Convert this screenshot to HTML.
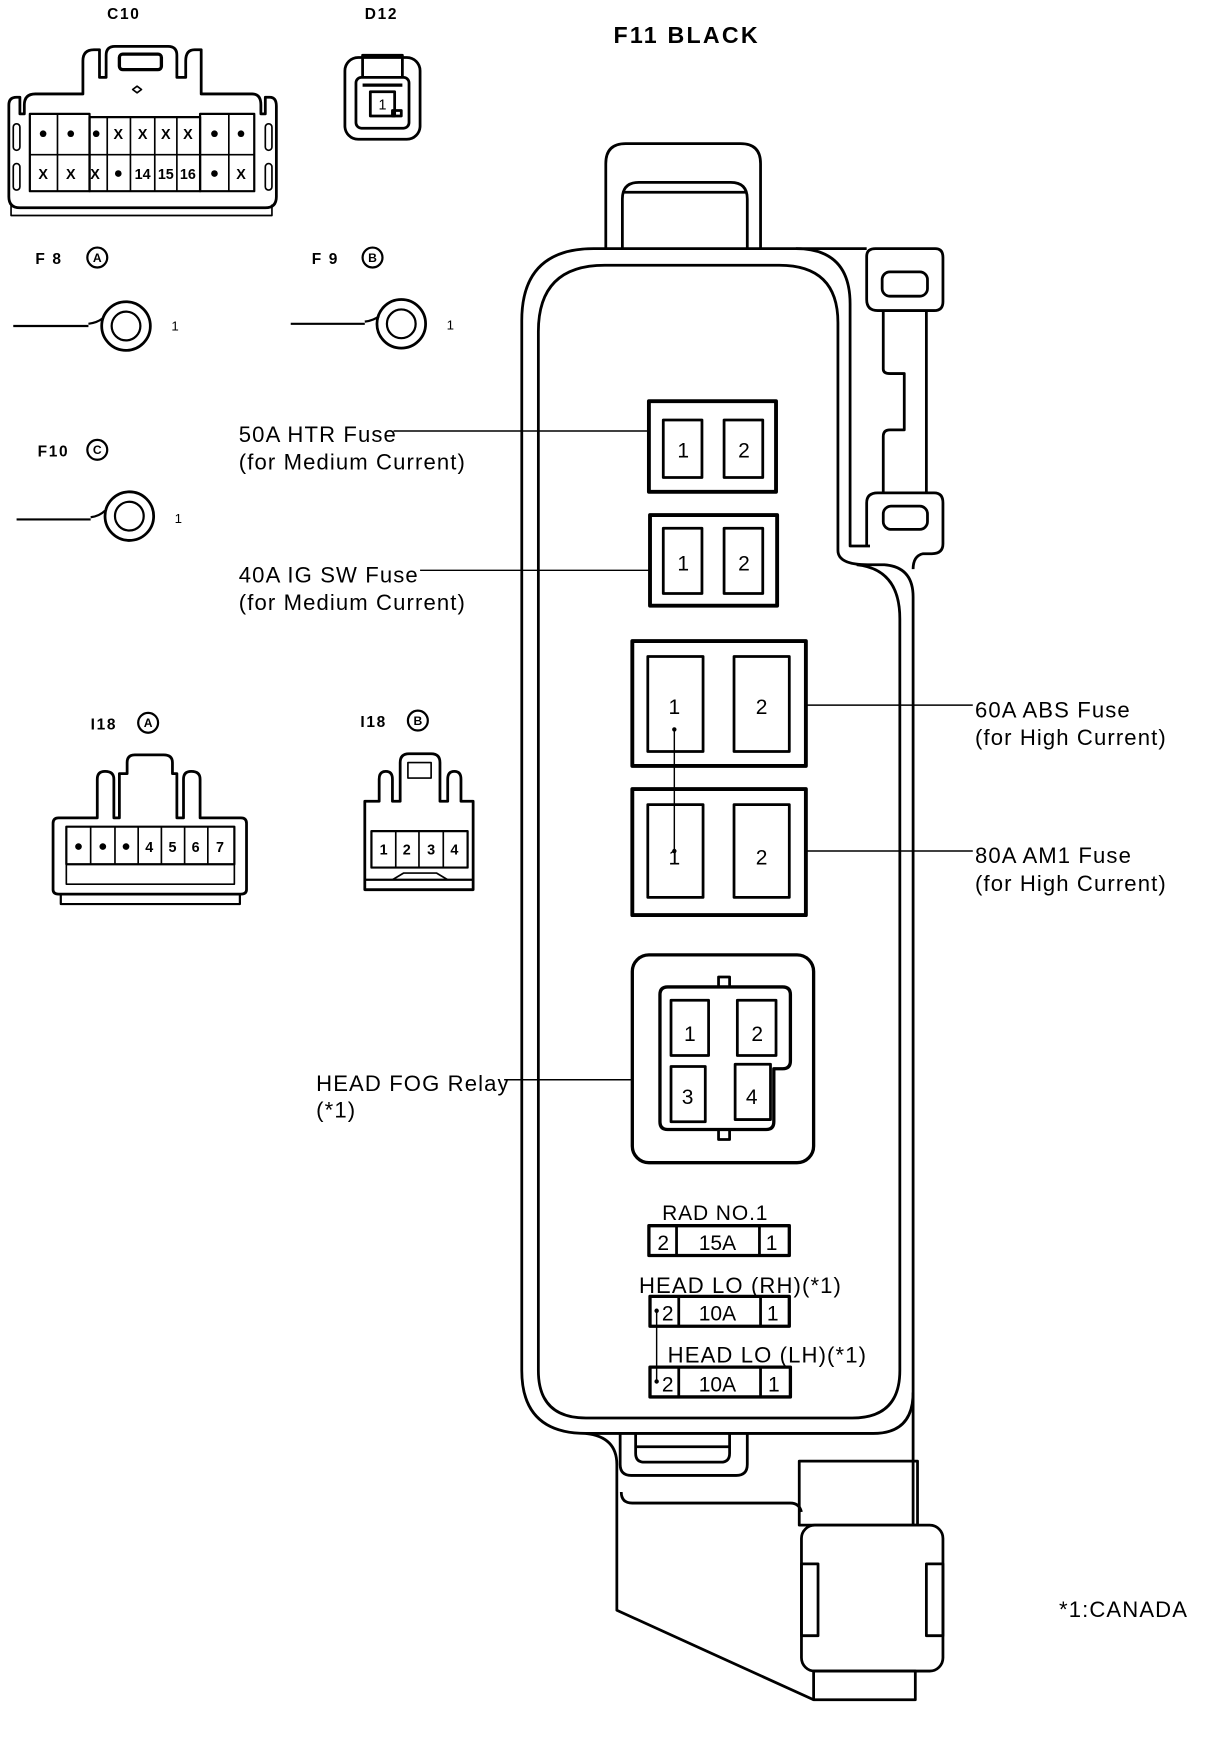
<!DOCTYPE html>
<html><head><meta charset="utf-8"><style>
html,body{margin:0;padding:0;background:#fff;}
svg{display:block;}
text{font-family:"Liberation Sans",sans-serif;fill:#000;}
</style></head><body>
<svg width="1216" height="1744" viewBox="0 0 1100 1578" preserveAspectRatio="none" xmlns="http://www.w3.org/2000/svg">
<g fill="none" stroke="#000" stroke-width="2.5" stroke-linejoin="round">

<path d="M548,225 V148 Q548,130 566,130 H670 Q688,130 688,148 V225"/>
<path d="M563,225 V180 Q563,165 578,165 H661 Q676,165 676,180 V225"/>
<line x1="563" y1="174" x2="676" y2="174"/>

<path d="M472,1240 V290 Q472,225 537,225 H784"/>
<path d="M720,225 Q769,225 769,275 V494 H787"/>
<path d="M487,1240 V300 Q487,240 547,240 H705 Q758,240 758,292 V498 Q758,511 785,511 H800 Q826,513 826,540 V1380"/>
<path d="M775,511 Q814,515 814,560 V1240 Q814,1283 771,1283 H530 Q487,1283 487,1240"/>
<path d="M472,1240 Q472,1297 530,1297 H790 Q826,1297 826,1260"/>
<path d="M784,232 Q784,225 792,225 H846 Q853,225 853,233 V273 Q853,281 845,281 H794 Q784,281 784,271 Z"/>
<rect x="798" y="246" width="41" height="22" rx="7"/>
<path d="M799,281 V334 Q799,338 805,338 H818 V389 H805 Q799,389 799,395 V446"/>
<line x1="838" y1="281" x2="838" y2="446"/>
<path d="M784,494 V455 Q784,446 794,446 H845 Q853,446 853,455 V492 Q853,501 843,501 H835 Q826,503 826,515"/>
<rect x="799" y="458" width="40" height="21" rx="7"/>

<path d="M530,1297 Q558,1300 558,1325 V1457 L736,1538"/>
<path d="M561,1297 V1325 Q561,1335 571,1335 H666 Q676,1335 676,1325 V1297"/>
<path d="M575,1297 V1315 Q575,1323 583,1323 H652 Q660,1323 660,1315 V1297"/>
<line x1="575" y1="1309" x2="660" y2="1309"/>
<path d="M562,1350 Q562,1360 572,1360 H715 Q723,1360 725,1368"/>
<rect x="723" y="1322" width="107" height="58"/>
<rect x="725" y="1380" width="128" height="132" rx="12"/>
<rect x="725" y="1415" width="15" height="65"/>
<rect x="838" y="1415" width="15" height="65"/>
<rect x="736" y="1512" width="92" height="26"/>

<rect x="587" y="363" width="115" height="82" stroke-width="3.5"/>
<rect x="600" y="380" width="35" height="52"/><rect x="655" y="380" width="35" height="52"/>
<rect x="588" y="466" width="115" height="82" stroke-width="3.5"/>
<rect x="600" y="478" width="35" height="59"/><rect x="655" y="478" width="35" height="59"/>
<rect x="572" y="580" width="157" height="113" stroke-width="3.5"/>
<rect x="586" y="594" width="50" height="86"/><rect x="664" y="594" width="50" height="86"/>
<rect x="572" y="714" width="157" height="114" stroke-width="3.5"/>
<rect x="586" y="728" width="50" height="84"/><rect x="664" y="728" width="50" height="84"/>
<line x1="610" y1="660" x2="610" y2="770" stroke-width="1.3"/>

<rect x="572" y="864" width="164" height="188" rx="15" stroke-width="3"/>
<path d="M604,893 H708 Q715,893 715,900 V960 Q715,967 708,967 H700 V1015 Q700,1022 693,1022 H604 Q597,1022 597,1015 V900 Q597,893 604,893 Z" stroke-width="3"/>
<rect x="650" y="884" width="10" height="9"/><rect x="650" y="1022" width="10" height="9"/>
<rect x="607" y="905" width="34" height="50"/><rect x="667" y="905" width="35" height="50"/>
<rect x="607" y="965" width="31" height="50"/><rect x="665" y="963" width="32" height="50"/>

<rect x="587" y="1109" width="127" height="27" stroke-width="3"/>
<line x1="612" y1="1109" x2="612" y2="1136"/><line x1="687" y1="1109" x2="687" y2="1136"/>
<rect x="588" y="1173" width="126" height="27" stroke-width="3"/>
<line x1="614" y1="1173" x2="614" y2="1200"/><line x1="688" y1="1173" x2="688" y2="1200"/>
<rect x="588" y="1237" width="127" height="27" stroke-width="3"/>
<line x1="614" y1="1237" x2="614" y2="1264"/><line x1="688" y1="1237" x2="688" y2="1264"/>
<line x1="594" y1="1185" x2="594" y2="1250" stroke-width="1.3"/>

<g stroke-width="1.3">
<line x1="356" y1="390" x2="587" y2="390"/>
<line x1="380" y1="516" x2="588" y2="516"/>
<line x1="729" y1="638" x2="880" y2="638"/>
<line x1="729" y1="770" x2="880" y2="770"/>
<line x1="456" y1="977" x2="572" y2="977"/>
</g>

<path d="M8,178 V95 Q8,88 15,88 H18 V103 H22 V95 Q22,85 32,85 H75 V55 Q75,45 85,45 H90 V70 H96 V50 Q96,42 104,42 H152 Q160,42 160,50 V70 H168 V55 Q168,45 176,45 H182 V85 H228 Q236,85 236,95 V103 H240 V88 H244 Q250,88 250,96 V178 Q250,188 240,188 H18 Q8,188 8,178 Z"/>
<rect x="108" y="49" width="38" height="14" rx="3" stroke-width="3"/>
<path d="M124,78 l4,3 -4,3 -4,-3 Z" stroke-width="1.5"/>
<rect x="27" y="103" width="54" height="70" stroke-width="2"/>
<rect x="81" y="106" width="100" height="67" stroke-width="2"/>
<rect x="181" y="103" width="49" height="70" stroke-width="2"/>
<g stroke-width="1.5">
<line x1="27" y1="140" x2="230" y2="140"/>
<line x1="52" y1="103" x2="52" y2="173"/>
<line x1="97" y1="106" x2="97" y2="173"/><line x1="118" y1="106" x2="118" y2="173"/>
<line x1="140" y1="106" x2="140" y2="173"/><line x1="160" y1="106" x2="160" y2="173"/>
<line x1="207" y1="103" x2="207" y2="173"/>
<rect x="12" y="112" width="6" height="24" rx="3"/><rect x="12" y="148" width="6" height="24" rx="3"/>
<rect x="240" y="112" width="6" height="24" rx="3"/><rect x="240" y="148" width="6" height="24" rx="3"/>
<path d="M10,185 V195 H246 V185"/>
</g>
<rect x="312" y="52" width="68" height="74" rx="12"/>
<rect x="322" y="70" width="48" height="46" rx="5"/>
<path d="M328,70 V50 H364 V70"/>
<line x1="328" y1="77" x2="364" y2="77" stroke-width="3"/>
<rect x="335" y="83" width="22" height="22"/>
<rect x="355" y="100" width="8" height="5"/>

<g stroke-width="2">
<line x1="12" y1="295" x2="80" y2="295"/><path d="M80,293 Q88,292 93,288"/>
<circle cx="114" cy="295" r="22" stroke-width="2.5"/><circle cx="114" cy="295" r="13"/>
<line x1="263" y1="293" x2="330" y2="293"/><path d="M330,291 Q338,290 343,286"/>
<circle cx="363" cy="293" r="22" stroke-width="2.5"/><circle cx="363" cy="293" r="13"/>
<line x1="15" y1="470" x2="82" y2="470"/><path d="M82,468 Q90,467 95,462"/>
<circle cx="117" cy="467" r="22" stroke-width="2.5"/><circle cx="117" cy="467" r="13"/>
<circle cx="88" cy="233" r="9"/><circle cx="337" cy="233" r="9"/><circle cx="88" cy="407" r="9"/>
<circle cx="134" cy="654" r="9"/><circle cx="378" cy="652" r="9"/>
</g>

<path d="M48,805 V745 Q48,740 53,740 H88 V705 Q88,698 95,698 Q103,698 103,705 V740 H108 V700 H115 V690 Q115,683 122,683 H148 Q156,683 156,690 V700 H160 V740 H166 V705 Q166,698 173,698 Q181,698 181,705 V740 H218 Q223,740 223,745 V805 Q223,809 218,809 H53 Q48,809 48,805 Z"/>
<rect x="60" y="748" width="152" height="34" stroke-width="2"/>
<path d="M60,782 V800 H212 V782" stroke-width="1.5"/>
<path d="M55,809 V818 H217 V809" stroke-width="2"/>
<g stroke-width="1.5"><line x1="82" y1="748" x2="82" y2="782"/><line x1="104" y1="748" x2="104" y2="782"/><line x1="125" y1="748" x2="125" y2="782"/><line x1="146" y1="748" x2="146" y2="782"/><line x1="167" y1="748" x2="167" y2="782"/><line x1="188" y1="748" x2="188" y2="782"/></g>
<path d="M330,805 V725 H343 V705 Q343,698 349,698 Q355,698 355,705 V725 H362 V690 Q362,682 370,682 H390 Q398,682 398,690 V725 H405 V705 Q405,698 411,698 Q417,698 417,705 V725 H428 V805 Z"/>
<rect x="336" y="752" width="87" height="33" stroke-width="2"/>
<line x1="330" y1="796" x2="428" y2="796" stroke-width="2"/>
<path d="M355,796 L365,790 H395 L405,796" stroke-width="1.5"/>
<rect x="369" y="690" width="21" height="14" stroke-width="1.5"/>
<g stroke-width="1.5"><line x1="358" y1="752" x2="358" y2="785"/><line x1="379" y1="752" x2="379" y2="785"/><line x1="401" y1="752" x2="401" y2="785"/></g>
</g>

<g fill="#000">
<circle cx="39" cy="121" r="3"/><circle cx="64" cy="121" r="3"/><circle cx="87" cy="121" r="3"/>
<circle cx="194" cy="121" r="3"/><circle cx="218" cy="121" r="3"/><circle cx="107" cy="157" r="3"/><circle cx="194" cy="157" r="3"/>
<circle cx="71" cy="766" r="3"/><circle cx="93" cy="766" r="3"/><circle cx="114" cy="766" r="3"/>
<circle cx="610" cy="660" r="2"/><circle cx="610" cy="770" r="2"/>
<circle cx="594" cy="1186" r="2"/><circle cx="594" cy="1250" r="2"/>
</g>

<g font-size="13" font-weight="bold" text-anchor="middle">
<text x="107" y="126">X</text><text x="129" y="126">X</text><text x="150" y="126">X</text><text x="170" y="126">X</text>
<text x="39" y="162">X</text><text x="64" y="162">X</text><text x="86" y="162">X</text>
<text x="129" y="162">14</text><text x="150" y="162">15</text><text x="170" y="162">16</text><text x="218" y="162">X</text>
<text x="346" y="99" font-weight="normal">1</text>
<text x="135" y="771">4</text><text x="156" y="771">5</text><text x="177" y="771">6</text><text x="199" y="771">7</text>
<text x="347" y="773">1</text><text x="368" y="773">2</text><text x="390" y="773">3</text><text x="411" y="773">4</text>
</g>
<g font-size="14" font-weight="bold" letter-spacing="1.5">
<text x="112" y="17" text-anchor="middle">C10</text>
<text x="330" y="17">D12</text>
<text x="32" y="239">F 8</text><text x="282" y="239">F 9</text><text x="34" y="413">F10</text>
<text x="82" y="660">I18</text><text x="326" y="658">I18</text>
</g>
<g font-size="11" font-weight="bold" text-anchor="middle">
<text x="88" y="237">A</text><text x="337" y="237">B</text><text x="88" y="411">C</text>
<text x="134" y="658">A</text><text x="378" y="656">B</text>
</g>
<g font-size="12"><text x="155" y="299">1</text><text x="404" y="298">1</text><text x="158" y="473">1</text></g>

<text x="555" y="39" font-size="21" font-weight="bold" letter-spacing="2">F11  BLACK</text>

<g font-size="19" text-anchor="middle">
<text x="618" y="414">1</text><text x="673" y="414">2</text>
<text x="618" y="516">1</text><text x="673" y="516">2</text>
<text x="610" y="646">1</text><text x="689" y="646">2</text>
<text x="610" y="782">1</text><text x="689" y="782">2</text>
<text x="624" y="942">1</text><text x="685" y="942">2</text>
<text x="622" y="999">3</text><text x="680" y="999">4</text>
<text x="600" y="1131">2</text><text x="649" y="1131">15A</text><text x="698" y="1131">1</text>
<text x="604" y="1195">2</text><text x="649" y="1195">10A</text><text x="699" y="1195">1</text>
<text x="604" y="1259">2</text><text x="649" y="1259">10A</text><text x="700" y="1259">1</text>
<text x="647" y="1104" letter-spacing="0.8">RAD NO.1</text>
</g>
<g font-size="20" letter-spacing="1">
<text x="578" y="1170">HEAD LO (RH)(*1)</text>
<text x="604" y="1233">HEAD LO (LH)(*1)</text>
<text x="216" y="400">50A HTR Fuse</text>
<text x="216" y="425">(for Medium Current)</text>
<text x="216" y="527">40A IG SW Fuse</text>
<text x="216" y="552">(for Medium Current)</text>
<text x="882" y="649">60A ABS Fuse</text>
<text x="882" y="674">(for High Current)</text>
<text x="882" y="781">80A AM1 Fuse</text>
<text x="882" y="806">(for High Current)</text>
<text x="286" y="987">HEAD FOG Relay</text>
<text x="286" y="1011">(*1)</text>
<text x="958" y="1463">*1:CANADA</text>
</g>
</svg>
</body></html>
